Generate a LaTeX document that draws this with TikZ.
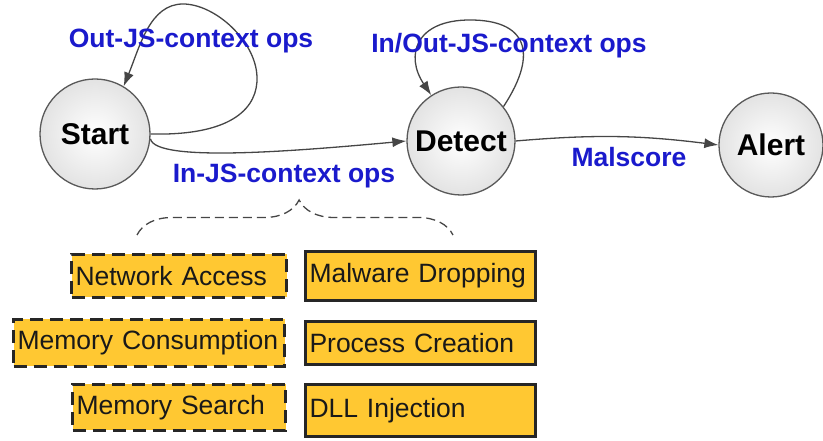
\documentclass[tikz,border=0pt]{standalone}
\usepackage{fontspec}
\setmainfont{Liberation Sans}
\usetikzlibrary{arrows.meta,decorations.pathreplacing}
\definecolor{opblue}{RGB}{26,26,204}
\definecolor{boxyellow}{RGB}{255,200,50}
\definecolor{edgegray}{RGB}{70,70,70}
\begin{document}
\begin{tikzpicture}[x=1pt,y=1pt,
    state/.style={circle,draw=gray!70!black,line width=1.3pt,inner color=white,outer color=gray!22,font=\fontsize{30}{32}\selectfont\bfseries},
    oplabel/.style={text=opblue,font=\fontsize{26.5}{28}\selectfont\bfseries,inner sep=0pt,anchor=base},
    opbox/.style={fill=boxyellow,line width=3pt,inner xsep=4pt,inner ysep=0pt,align=left,font=\fontsize{26.5}{28}\selectfont,text=black!90},
    outbox/.style={opbox,draw=black!85,dash pattern=on 13pt off 7pt},
    inbox/.style={opbox,draw=black!85},
    trans/.style={draw=edgegray,line width=1.3pt,-{Latex[length=14pt,width=10pt]}}]
  \useasboundingbox (0,0) rectangle (823,441);
  % states
  \node[state,minimum size=110pt] (start) at (95,307) {Start};
  \node[state,minimum size=108pt] (detect) at (461,300) {Detect};
  \node[state,minimum size=104pt] (alert) at (771,296) {Alert};
  % transitions
  \coordinate (startR) at (257,364);
  \coordinate (startT) at (183,437);
  \coordinate (detectT) at (470,421);
  \draw[trans] (start.east) .. controls (235,305) and (258,335) .. (startR)
    .. controls (256,400) and (215,437) .. (startT)
    .. controls (150,437) and (140,395) .. (start.59);
  \draw[trans] (start.-5) .. controls +(5,-24) and +(-110,-10) .. (detect.west);
  \draw[trans] (detect.39) .. controls (540,390) and (525,421) .. (detectT)
    .. controls (415,421) and (405,385) .. (detect.123);
  \draw[trans] (detect.east) to[bend left=6] (alert.west);
  \node[oplabel] (outlbl) at (191,393) {Out-JS-context ops};
  \node[oplabel] (inoutlbl) at (509,388) {In/Out-JS-context ops};
  \node[oplabel] (inlbl) at (284,258) {In-JS-context ops};
  \node[oplabel] (mallbl) at (629,274) {Malscore};
  % operations
  \coordinate (braceL) at (137,206);
  \coordinate (braceR) at (453,206);
  \draw[edgegray,line width=1.3pt,dash pattern=on 9pt off 5pt,decorate,decoration={brace,amplitude=35pt,aspect=0.513}] (braceL) -- (braceR);
  \node[outbox,text width=207pt,minimum height=43pt] (netacc) at (179,165) {Network Access};
  \node[outbox,text width=263pt,minimum height=47pt] (memcons) at (149,98) {Memory Consumption};
  \node[outbox,text width=205pt,minimum height=46pt] (memsearch) at (179,33.5) {Memory Search};
  \node[inbox,text width=222pt,minimum height=49pt] (malware) at (420.5,165) {Malware Dropping};
  \node[inbox,text width=222pt,minimum height=43pt] (proccreate) at (420.5,98) {Process Creation};
  \node[inbox,text width=222pt,minimum height=52pt] (dllinj) at (420.5,30.5) {DLL Injection};
\end{tikzpicture}
\end{document}
